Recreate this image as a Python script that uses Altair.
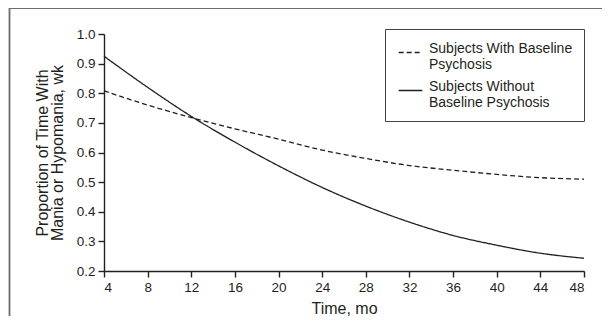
import altair as alt
import pandas as pd

months = [4, 8, 12, 16, 20, 24, 28, 32, 36, 40, 44, 48]
with_psychosis = [0.808, 0.760, 0.718, 0.680, 0.645, 0.608, 0.580, 0.556, 0.540, 0.526, 0.515, 0.510]
without_psychosis = [0.925, 0.820, 0.722, 0.635, 0.555, 0.482, 0.419, 0.365, 0.320, 0.287, 0.260, 0.243]
series_names = ["Subjects With Baseline\nPsychosis", "Subjects Without\nBaseline Psychosis"]
x_ticks = [4, 8, 12, 16, 20, 24, 28, 32, 36, 40, 44, 48]
y_ticks = [0.2, 0.3, 0.4, 0.5, 0.6, 0.7, 0.8, 0.9, 1.0]

rows = []
for m, a, b in zip(months, with_psychosis, without_psychosis):
    rows.append({"month": m, "value": a, "series": series_names[0]})
    rows.append({"month": m, "value": b, "series": series_names[1]})
df = pd.DataFrame(rows)

FONT = "Liberation Sans, Arial, sans-serif"
INK = "#231f20"
FRAME = "#6d6d6d"

PW, PH = 480, 237
PAD = {"left": 96, "top": 26, "right": 18, "bottom": 45}

frame_top = alt.Chart(alt.Data(values=[{}])).mark_rule(
    color=FRAME, strokeWidth=1.8
).encode(x=alt.value(-95), x2=alt.value(PW + PAD["right"]), y=alt.value(-26))
frame_left = alt.Chart(alt.Data(values=[{}])).mark_rule(
    color=FRAME, strokeWidth=1.8
).encode(x=alt.value(-94.5), y=alt.value(-26.9), y2=alt.value(PH + PAD["bottom"]))

lines = alt.Chart(df).mark_line(
    color=INK, strokeWidth=1.3, interpolate="monotone"
).encode(
    x=alt.X("month:Q", scale=alt.Scale(domain=[4, 48], nice=False, zero=False),
            axis=alt.Axis(values=x_ticks, title="Time, mo", format="d",
                          titlePadding=7, labelFontSize=13.5, titleFontSize=16,
                          labelFont=FONT, titleFont=FONT)),
    y=alt.Y("value:Q", scale=alt.Scale(domain=[0.2, 1.0], nice=False, zero=False),
            axis=alt.Axis(values=y_ticks, format=".1f",
                          title=["Proportion of Time With", "Mania or Hypomania, wk"],
                          titlePadding=11, titleLineHeight=15,
                          labelFontSize=13.5, titleFontSize=16,
                          labelFont=FONT, titleFont=FONT)),
    strokeDash=alt.StrokeDash(
        "series:N",
        scale=alt.Scale(domain=series_names, range=[[5, 3], [1, 0]]),
        legend=alt.Legend(
            title=None, orient="none", legendX=281, legendY=-5,
            strokeColor="#444", padding=11, fillColor="white",
            symbolType="stroke", symbolSize=560, symbolStrokeWidth=1.3,
            symbolStrokeColor=INK, symbolOffset=2,
            labelFont=FONT, labelFontSize=14, labelColor=INK,
            labelExpr="split(datum.label, '\\n')", labelBaseline="alphabetic",
            labelLimit=300, rowPadding=6, labelOffset=6,
        ),
    ),
)

chart = alt.layer(frame_top, frame_left, lines).properties(
    width=PW, height=PH,
    autosize=alt.AutoSizeParams(type="none"),
    padding=PAD,
).configure_view(stroke=None).configure_axis(
    domainColor=INK, domainWidth=1.4, tickColor=INK, tickWidth=1.4, tickSize=6,
    grid=False, labelColor=INK, titleFontWeight="normal", titleColor=INK,
    labelPadding=3,
)

chart.save("out.html", embed_options={"renderer": "svg", "actions": False})
